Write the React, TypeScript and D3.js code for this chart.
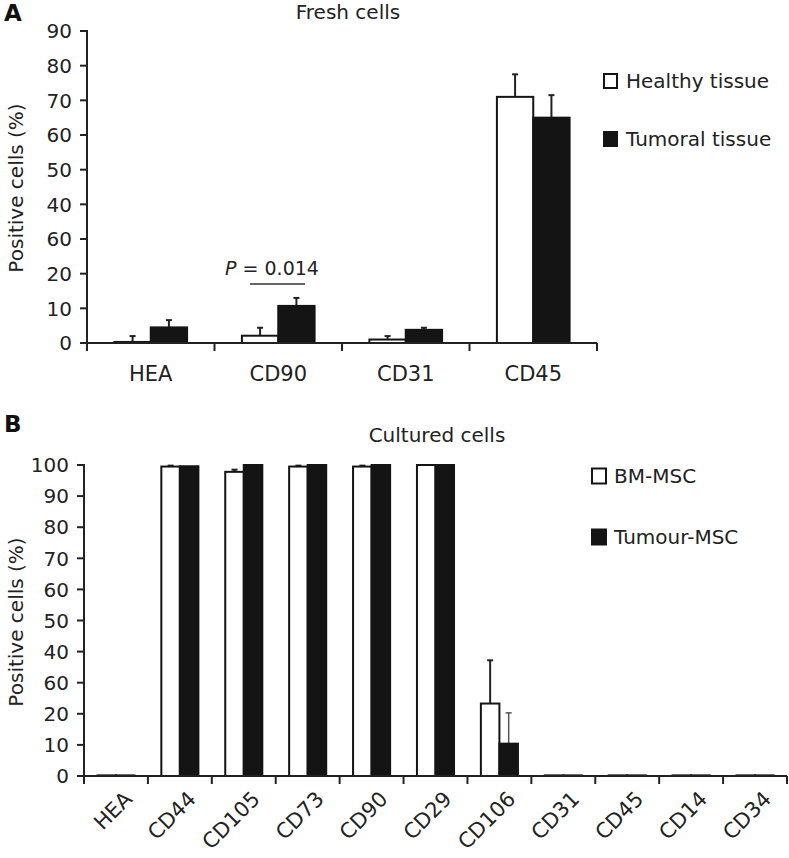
import React from "react";
import * as d3 from "d3";

// ---------- Panel A data (Fresh cells) ----------
const freshCategories = ["HEA", "CD90", "CD31", "CD45"];
const freshHealthy = [0.3, 2.1, 1.0, 71];
const freshHealthyErr = [1.7, 2.3, 1.0, 6.5];
const freshTumoral = [4.5, 10.7, 3.8, 65];
const freshTumoralErr = [2.1, 2.3, 0.6, 6.5];
const freshTickValues = [0, 10, 20, 30, 40, 50, 60, 70, 80, 90];
const freshTickLabels = ["0", "10", "20", "60", "40", "50", "60", "70", "80", "90"];
const freshLegend = ["Healthy tissue", "Tumoral tissue"];

// ---------- Panel B data (Cultured cells) ----------
const culturedCategories = ["HEA", "CD44", "CD105", "CD73", "CD90", "CD29", "CD106", "CD31", "CD45", "CD14", "CD34"];
const culturedBM = [0.2, 99.5, 97.8, 99.5, 99.5, 100, 23.3, 0.2, 0.2, 0.2, 0.2];
const culturedBMErr = [0, 0.3, 0.7, 0.3, 0.3, 0, 13.9, 0, 0, 0, 0];
const culturedTumour = [0.2, 99.6, 100, 100, 100, 100, 10.4, 0.2, 0.2, 0.2, 0.2];
const culturedTumourErr = [0, 0, 0, 0, 0, 0, 9.9, 0, 0, 0, 0];
const culturedTickValues = [0, 10, 20, 30, 40, 50, 60, 70, 80, 90, 100];
const culturedTickLabels = ["0", "10", "20", "60", "40", "50", "60", "70", "80", "90", "100"];
const culturedLegend = ["BM-MSC", "Tumour-MSC"];

const FONT = "'DejaVu Sans', 'Liberation Sans', sans-serif";
const TEXT = "#222";

function Panel(props: {
  cats: string[];
  s1: number[];
  e1: number[];
  s2: number[];
  e2: number[];
  ticks: number[];
  tickLabels: string[];
  yMax: number;
  x0: number;
  x1: number;
  yTop: number;
  yBottom: number;
  barFrac: number;
  rotateLabels: boolean;
  errThin2?: boolean;
}) {
  const { cats, s1, e1, s2, e2, ticks, tickLabels, yMax, x0, x1, yTop, yBottom, barFrac, rotateLabels } = props;
  const x = d3.scaleBand<string>().domain(cats).range([x0, x1]).paddingInner(0).paddingOuter(0);
  const y = d3.scaleLinear().domain([0, yMax]).range([yBottom, yTop]);
  const bw = x.bandwidth() * barFrac;
  const cap = 3;
  const bars: React.ReactNode[] = [];
  cats.forEach((c, i) => {
    const cx = (x(c) as number) + x.bandwidth() / 2;
    const series = [
      { v: s1[i], e: e1[i], fill: "#fff", bx: cx - bw },
      { v: s2[i], e: e2[i], fill: "#141414", bx: cx },
    ];
    series.forEach((s, j) => {
      const mid = s.bx + bw / 2;
      if (s.e > 0) {
        bars.push(
          <g key={`e${i}-${j}`} stroke={j === 1 && props.errThin2 ? "#555" : "#222"} strokeWidth={j === 1 && props.errThin2 ? 1.5 : 2}>
            <line x1={mid} x2={mid} y1={y(s.v)} y2={y(s.v + s.e)} />
            <line x1={mid - cap} x2={mid + cap} y1={y(s.v + s.e)} y2={y(s.v + s.e)} />
          </g>
        );
      }
      bars.push(
        <rect
          key={`b${i}-${j}`}
          x={s.bx}
          y={y(s.v)}
          width={bw}
          height={yBottom - y(s.v)}
          fill={s.fill}
          stroke="#141414"
          strokeWidth={2}
        />
      );
    });
  });
  return (
    <g>
      {bars}
      {/* y axis */}
      <line x1={x0} x2={x0} y1={yTop - 1} y2={yBottom + 1} stroke="#222" strokeWidth={2} />
      {ticks.map((t, i) => (
        <g key={`t${i}`}>
          <line x1={x0 - 7} x2={x0} y1={y(t)} y2={y(t)} stroke="#222" strokeWidth={2} />
          <text x={x0 - 15} y={y(t)} dy="0.36em" textAnchor="end" fontSize={20} fill={TEXT} fontFamily={FONT}>
            {tickLabels[i]}
          </text>
        </g>
      ))}
      {/* x axis */}
      <line x1={x0 - 1} x2={x1} y1={yBottom} y2={yBottom} stroke="#222" strokeWidth={2} />
      {cats.map((c, i) => (
        <line key={`xt${i}`} x1={(x(c) as number) + x.bandwidth()} x2={(x(c) as number) + x.bandwidth()} y1={yBottom} y2={yBottom + 8} stroke="#222" strokeWidth={2} />
      ))}
      <line x1={x0} x2={x0} y1={yBottom} y2={yBottom + 8} stroke="#222" strokeWidth={2} />
      {cats.map((c, i) => {
        const cx = (x(c) as number) + x.bandwidth() / 2;
        return rotateLabels ? (
          <text
            key={`xl${i}`}
            transform={`translate(${cx + 7},${yBottom + 14}) rotate(-45)`}
            textAnchor="end"
            dy="0.7em"
            fontSize={21}
            fill={TEXT}
            fontFamily={FONT}
          >
            {c}
          </text>
        ) : (
          <text key={`xl${i}`} x={cx} y={yBottom + 38} textAnchor="middle" fontSize={21} fill={TEXT} fontFamily={FONT}>
            {c}
          </text>
        );
      })}
    </g>
  );
}

function Legend(props: { labels: string[]; x: number; y: number; gap: number; size: number }) {
  const { labels, x, y, gap, size } = props;
  return (
    <g>
      {labels.map((l, i) => (
        <g key={l}>
          <rect x={x} y={y + i * gap - size / 2} width={size - 1} height={size} fill={i === 0 ? "#fff" : "#141414"} stroke="#141414" strokeWidth={2} />
          <text x={x + 22} y={y + i * gap} dy="0.36em" fontSize={20} fill={TEXT} fontFamily={FONT}>
            {l}
          </text>
        </g>
      ))}
    </g>
  );
}

export default function App() {
  // panel A geometry
  const aY = d3.scaleLinear().domain([0, 90]).range([343, 31]);
  return (
    <svg width={789} height={858} style={{ position: "absolute", left: 0, top: 0, background: "#fff" }}>
      <rect width={789} height={858} fill="#fff" />
      {/* Panel A */}
      <text x={4} y={21} fontSize={23} fontWeight="bold" fill="#111" fontFamily={FONT}>A</text>
      <text x={348} y={19} textAnchor="middle" fontSize={20} fill={TEXT} fontFamily={FONT}>Fresh cells</text>
      <text transform="translate(23,188) rotate(-90)" textAnchor="middle" fontSize={20} fill={TEXT} fontFamily={FONT}>Positive cells (%)</text>
      <Panel
        cats={freshCategories}
        s1={freshHealthy}
        e1={freshHealthyErr}
        s2={freshTumoral}
        e2={freshTumoralErr}
        ticks={freshTickValues}
        tickLabels={freshTickLabels}
        yMax={90}
        x0={87}
        x1={597}
        yTop={31}
        yBottom={343}
        barFrac={0.285}
        rotateLabels={false}
      />
      <line x1={250} x2={305} y1={aY(17)} y2={aY(17)} stroke="#666" strokeWidth={2} />
      <text x={272} y={aY(19.6)} textAnchor="middle" fontSize={19} fill={TEXT} fontFamily={FONT}>
        <tspan fontStyle="italic">P</tspan> = 0.014
      </text>
      <Legend labels={freshLegend} x={604} y={81} gap={58} size={14} />

      {/* Panel B */}
      <text x={4} y={432} fontSize={23} fontWeight="bold" fill="#111" fontFamily={FONT}>B</text>
      <text x={437} y={442} textAnchor="middle" fontSize={20} fill={TEXT} fontFamily={FONT}>Cultured cells</text>
      <text transform="translate(23,622) rotate(-90)" textAnchor="middle" fontSize={20} fill={TEXT} fontFamily={FONT}>Positive cells (%)</text>
      <Panel
        cats={culturedCategories}
        s1={culturedBM}
        e1={culturedBMErr}
        s2={culturedTumour}
        e2={culturedTumourErr}
        ticks={culturedTickValues}
        tickLabels={culturedTickLabels}
        yMax={100}
        x0={84}
        x1={787}
        yTop={465}
        yBottom={776}
        barFrac={0.29}
        rotateLabels={true}
        errThin2={true}
      />
      <Legend labels={culturedLegend} x={592} y={476} gap={61} size={15} />
    </svg>
  );
}
